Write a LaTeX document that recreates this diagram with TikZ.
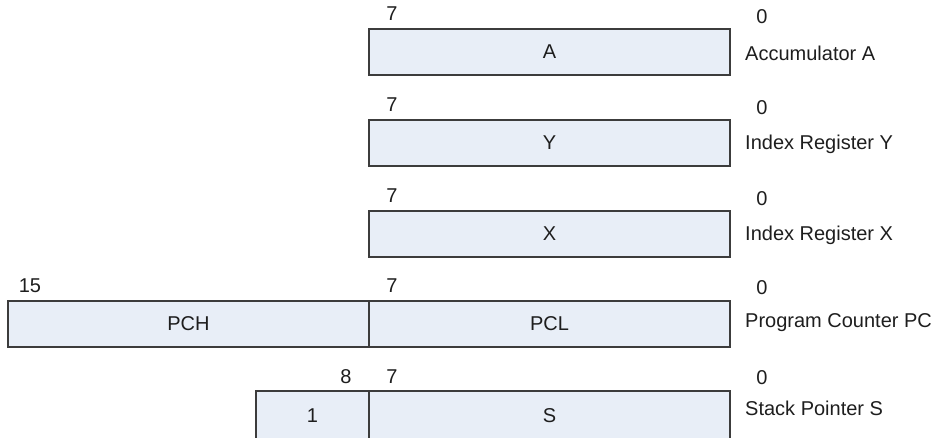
\documentclass[tikz,border=0pt]{standalone}
\usepackage{fontspec}
\setmainfont{Liberation Sans}
\definecolor{regfill}{HTML}{E8EEF7}
\definecolor{regline}{HTML}{3C3C3C}
\definecolor{txt}{HTML}{1E1E1E}
\begin{document}
\begin{tikzpicture}[x=1pt,y=-1pt,
  every node/.style={font=\fontsize{20}{23}\selectfont, text=txt},
  reg/.style={draw=regline, fill=regfill, line width=1.6pt, inner sep=0pt, minimum height=46pt},
  lbl/.style={anchor=west, inner sep=0pt},
  num/.style={inner sep=0pt}]
\useasboundingbox (0,0) rectangle (936,437);
\begin{scope}
\clip (0,0) rectangle (936,437);
% A
\node[reg, minimum width=361pt] (rA) at (549.5,52) {A};
\node[num] (a7) at (392,14) {7};
\node[num] (a0) at (762,17) {0};
\node[lbl] (aL) at (745,53) {Accumulator A};
% Y
\node[reg, minimum width=361pt] (rY) at (549.5,143) {Y};
\node[num] (y7) at (392,105) {7};
\node[num] (y0) at (762,108) {0};
\node[lbl] (yL) at (745,144) {Index Register Y};
% X
\node[reg, minimum width=361pt] (rX) at (549.5,234) {X};
\node[num] (x7) at (392,196) {7};
\node[num] (x0) at (762,199) {0};
\node[lbl] (xL) at (745,235) {Index Register X};
% PC
\node[reg, minimum width=361pt] (rPCH) at (188.5,324) {PCH};
\node[reg, minimum width=361pt] (rPCL) at (549.5,324) {PCL};
\node[num] (p15) at (30,286) {15};
\node[num] (p7) at (392,286) {7};
\node[num] (p0) at (762,288) {0};
\node[lbl] (pL) at (745,323) {Program Counter PC};
% S (bottom edge falls just outside the picture)
\node[reg, minimum width=113pt, minimum height=50pt] (rS1) at (312.5,416) {\raisebox{1.5pt}{1}};
\node[reg, minimum width=361pt, minimum height=50pt] (rS) at (549.5,416) {\raisebox{1.5pt}{S}};
\node[num] (s8) at (346,377) {8};
\node[num] (s7) at (392,377) {7};
\node[num] (s0) at (762,378) {0};
\node[lbl] (sL) at (745,408) {Stack Pointer S};
\end{scope}
\end{tikzpicture}
\end{document}
